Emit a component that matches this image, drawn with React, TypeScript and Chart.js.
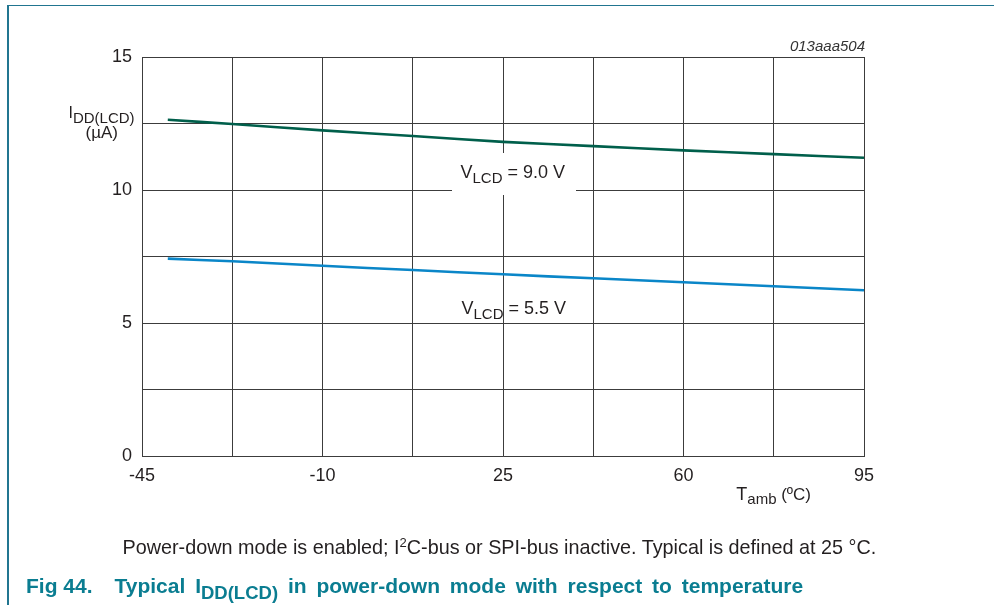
import { useEffect, useRef } from 'react';
import { Chart, registerables } from 'chart.js';

Chart.register(...registerables);

// ---- data ----
const temperatures = [-40, -27.5, -10, 7.5, 25, 42.5, 60, 77.5, 95];
const iddVlcd9V0 = [12.64, 12.48, 12.24, 12.03, 11.81, 11.65, 11.49, 11.35, 11.21];
const iddVlcd5V5 = [7.42, 7.32, 7.15, 6.99, 6.83, 6.68, 6.53, 6.38, 6.23];
const xTickLabels = [-45, -10, 25, 60, 95];
const yTickLabels = [0, 5, 10, 15];
const seriesNames = ['VLCD = 9.0 V', 'VLCD = 5.5 V'];

const FONT = '"Liberation Sans", Arial, Helvetica, sans-serif';
const TXT = '#231f20';
const GRID = '#3c3c3c';
const GREEN = '#005f4b';
const BLUE = '#0a86c8';
const TEAL = '#217590';
const TITLE = '#0a7d91';

type Part = { t: string; size: number; dy?: number; style?: string };

function drawRich(ctx: CanvasRenderingContext2D, x: number, y: number, parts: Part[], align: 'left' | 'center' | 'right' = 'left') {
  let total = 0;
  const widths: number[] = [];
  for (const p of parts) {
    ctx.font = `${p.style || ''} ${p.size}px ${FONT}`;
    const w = ctx.measureText(p.t).width;
    widths.push(w);
    total += w;
  }
  let cx = align === 'left' ? x : align === 'center' ? x - total / 2 : x - total;
  parts.forEach((p, i) => {
    ctx.font = `${p.style || ''} ${p.size}px ${FONT}`;
    ctx.fillText(p.t, cx, y + (p.dy || 0));
    cx += widths[i];
  });
}

const annotPlugin = {
  id: 'annot',
  beforeDatasetsDraw(chart: any) {
    const { ctx, scales } = chart;
    const xs = scales.x;
    const ys = scales.y;
    ctx.save();
    ctx.fillStyle = '#ffffff';
    const cx = xs.getPixelForValue(25) + 11;
    const cy = ys.getPixelForValue(10) - 16;
    ctx.fillRect(cx - 62, cy - 21, 124, 42);
    ctx.restore();
  },
  afterDatasetsDraw(chart: any) {
    const { ctx, scales, chartArea } = chart;
    const xs = scales.x;
    const ys = scales.y;
    ctx.save();
    ctx.fillStyle = TXT;
    ctx.textBaseline = 'alphabetic';
    // series labels
    const [n9, n5] = seriesNames;
    const lx = xs.getPixelForValue(25) - 42.5;
    drawRich(ctx, lx, ys.getPixelForValue(10) - 11.7, [
      { t: n9.slice(0, 1), size: 18 },
      { t: n9.slice(1, 4), size: 15, dy: 4.6 },
      { t: n9.slice(4), size: 18 },
    ]);
    drawRich(ctx, lx + 1, ys.getPixelForValue(5) - 8.7, [
      { t: n5.slice(0, 1), size: 18 },
      { t: n5.slice(1, 4), size: 15, dy: 4.6 },
      { t: n5.slice(4), size: 18 },
    ]);
    // y axis title
    drawRich(ctx, 68.5, 118.4, [
      { t: 'I', size: 16 },
      { t: 'DD(LCD)', size: 15, dy: 4.3 },
    ]);
    drawRich(ctx, 101.7, 138, [{ t: '(µA)', size: 17 }], 'center');
    // x axis title
    drawRich(ctx, 736.3, 500, [
      { t: 'T', size: 18 },
      { t: 'amb', size: 15, dy: 3.5 },
      { t: ' (ºC)', size: 17 },
    ]);
    // figure code
    ctx.fillStyle = '#333333';
    drawRich(ctx, chartArea.right + 1, 50.7, [{ t: '013aaa504', size: 15, style: 'italic' }], 'right');
    ctx.restore();
  },
};

const near = (a: number, list: number[]) => list.some((b) => Math.abs(a - b) < 1e-6);

export default function App() {
  const ref = useRef<HTMLCanvasElement | null>(null);

  useEffect(() => {
    if (!ref.current) return;
    const chart = new Chart(ref.current, {
      type: 'line',
      data: {
        datasets: [
          {
            label: seriesNames[0],
            data: temperatures.map((t, i) => ({ x: t, y: iddVlcd9V0[i] })),
            borderColor: GREEN,
            borderWidth: 2.6,
            pointRadius: 0,
            tension: 0.25,
            fill: false,
          },
          {
            label: seriesNames[1],
            data: temperatures.map((t, i) => ({ x: t, y: iddVlcd5V5[i] })),
            borderColor: BLUE,
            borderWidth: 2.6,
            pointRadius: 0,
            tension: 0.25,
            fill: false,
          },
        ],
      },
      options: {
        animation: false,
        responsive: false,
        devicePixelRatio: 1,
        layout: { padding: { left: 0, top: 57, right: 130, bottom: 0 } },
        plugins: { legend: { display: false }, tooltip: { enabled: false } },
        scales: {
          x: {
            type: 'linear',
            min: -45,
            max: 95,
            afterFit: (s: any) => {
              s.height = 149;
            },
            ticks: {
              stepSize: 17.5,
              autoSkip: false,
              maxRotation: 0,
              padding: 9,
              color: TXT,
              font: { family: FONT, size: 18 },
              callback: (v: any) => (near(Number(v), xTickLabels) ? String(v) : ''),
            },
            grid: { color: GRID, lineWidth: 1, drawTicks: false },
            border: { color: GRID, width: 1 },
          },
          y: {
            type: 'linear',
            min: 0,
            max: 15,
            afterFit: (s: any) => {
              s.width = 142;
            },
            ticks: {
              stepSize: 2.5,
              autoSkip: false,
              padding: 10,
              color: TXT,
              font: { family: FONT, size: 18 },
              callback: (v: any) => (near(Number(v), yTickLabels) ? String(v) : ''),
            },
            grid: { color: GRID, lineWidth: 1, drawTicks: false },
            border: { color: GRID, width: 1 },
          },
        },
      },
      plugins: [annotPlugin],
    } as any);
    return () => chart.destroy();
  }, []);

  return (
    <div style={{ position: 'absolute', left: 0, top: 0, width: 994, height: 605, background: '#fff', overflow: 'hidden', fontFamily: FONT }}>
      <canvas ref={ref} width={994} height={605} style={{ display: 'block', position: 'absolute', left: 0, top: 0 }} />
      <div style={{ position: 'absolute', left: 7.2, top: 5, width: 1.6, height: 600, background: TEAL }} />
      <div style={{ position: 'absolute', left: 7.2, top: 5, width: 987, height: 1.4, background: TEAL }} />
      <div style={{ position: 'absolute', left: 122.5, top: 538.3, fontSize: 19.8, lineHeight: '19.8px', color: TXT, whiteSpace: 'nowrap' }}>
        Power-down mode is enabled; I<span style={{ fontSize: 13, position: 'relative', top: -7 }}>2</span>C-bus or SPI-bus inactive. Typical is defined at 25 °C.
      </div>
      <div style={{ position: 'absolute', left: 26, top: 575.3, fontSize: 21, lineHeight: '21px', fontWeight: 'bold', color: TITLE, whiteSpace: 'nowrap' }}>
        Fig 44.
      </div>
      <div style={{ position: 'absolute', left: 114.5, top: 575.3, fontSize: 21, lineHeight: '21px', fontWeight: 'bold', color: TITLE, whiteSpace: 'nowrap', wordSpacing: '4px' }}>
        Typical I<span style={{ fontSize: 18.5, position: 'relative', top: 5.5 }}>DD(LCD)</span> in power-down mode with respect to temperature
      </div>
    </div>
  );
}
